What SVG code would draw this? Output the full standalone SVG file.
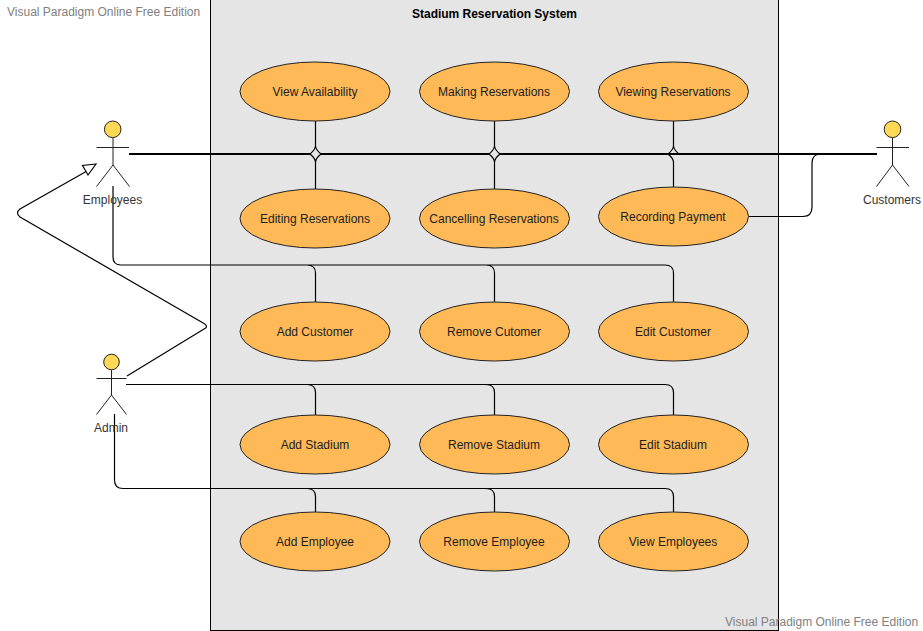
<svg xmlns="http://www.w3.org/2000/svg" width="923" height="631" viewBox="0 0 923 631">
<defs>
<style>
text{font-family:"Liberation Sans",Arial,sans-serif;font-size:12px;fill:#222;text-anchor:middle}
.uc{fill:#FFB957;stroke:#222;stroke-width:1}
.ln{fill:none;stroke:#000;stroke-width:1.2}
.thick{fill:none;stroke:#000;stroke-width:2.2}
.head{fill:#FFD855;stroke:#222;stroke-width:1}
.body{fill:none;stroke:#222;stroke-width:1}
.wm{fill:#808080;text-anchor:start}
.title{font-weight:bold;fill:#000;letter-spacing:-.02px}
.act{fill:#333}
</style>
</defs>
<rect x="0" y="0" width="923" height="631" fill="#fff"/>
<text class="wm" x="7" y="16">Visual Paradigm Online Free Edition</text>
<g id="system">
<rect x="210.500" y="-1" width="568" height="631.500" fill="#E5E5E5" stroke="#000" stroke-width="1"/>
<text class="title" x="494.500" y="18">Stadium Reservation System</text>
</g>
<g id="connectors">
<path class="thick" d="M129 154H310M321 154H489M500 154H877"/>
<path class="ln" d="M315.500 121V146Q315 150 310 154M315.500 146Q316 150 321 154M315.500 189V162Q315 158 310 154M315.500 162Q316 158 321 154"/>
<path class="ln" d="M494.500 121V146Q494 150 489 154M494.500 146Q495 150 500 154M494.500 189V162Q494 158 489 154M494.500 162Q495 158 500 154"/>
<path class="ln" d="M673.500 121V146Q673 150 668 154M673.500 146Q674 150 679 154M673.500 187V162Q673 158 668 154"/>
<path class="ln" d="M749 216.500H803Q812 216.500 812 207V163Q812 154 821 154"/>
<path class="ln" d="M113 186V257Q113 265 121 265H307Q315.500 265 315.500 273V302M307 265H486Q494.500 265 494.500 273V302M486 265H665Q673.500 265 673.500 273V302"/>
<path class="ln" d="M126 384.500H307Q315.500 384.500 315.500 392.500V415M307 384.500H486Q494.500 384.500 494.500 392.500V415M486 384.500H665Q673.500 384.500 673.500 392.500V415"/>
<path class="ln" d="M114.500 414V480Q114.500 488.500 123 488.500H307Q315.500 488.500 315.500 496.500V512M307 488.500H486Q494.500 488.500 494.500 496.500V512M486 488.500H665Q673.500 488.500 673.500 496.500V512"/>
<path class="ln" d="M127 376L204 329Q209 326.500 204 323.500L20 217Q15 213 20 209L87 171"/>
<polygon points="96,164 82.500,165.500 88,175" fill="#fff" stroke="#000" stroke-width="1.200"/>
</g>
<g id="actor-employees">
<circle class="head" cx="112.700" cy="129.300" r="8.300"/>
<path class="body" d="M113 138V165M96.500 147.500H129M113 165L96.500 186.500M113 165L129.500 186.500"/>
<text class="act" x="112.500" y="204">Employees</text>
</g>
<g id="actor-admin">
<circle class="head" cx="111.500" cy="362" r="7.800"/>
<path class="body" d="M111.500 370V395M96.500 378.500H126.500M111.500 395L96.500 414.500M111.500 395L126.500 414.500"/>
<text class="act" x="111" y="432">Admin</text>
</g>
<g id="actor-customers">
<circle class="head" cx="892.500" cy="129.300" r="8.300"/>
<path class="body" d="M892.500 138V165M876.500 147.500H909M892.500 165L876.500 186.500M892.500 165L909 186.500"/>
<text class="act" x="892" y="204">Customers</text>
</g>
<g id="uc-view-availability"><ellipse class="uc" cx="315" cy="91.500" rx="75" ry="29.500"/><text x="315" y="96">View Availability</text></g>
<g id="uc-making-reservations"><ellipse class="uc" cx="494.500" cy="91.500" rx="75" ry="29.500"/><text x="494" y="96">Making Reservations</text></g>
<g id="uc-viewing-reservations"><ellipse class="uc" cx="673.500" cy="91.500" rx="75" ry="29.500"/><text x="673" y="96">Viewing Reservations</text></g>
<g id="uc-editing-reservations"><ellipse class="uc" cx="315" cy="218.500" rx="75" ry="29.500"/><text x="315" y="223">Editing Reservations</text></g>
<g id="uc-cancelling-reservations"><ellipse class="uc" cx="494.500" cy="218.500" rx="75" ry="29.500"/><text x="494" y="223">Cancelling Reservations</text></g>
<g id="uc-recording-payment"><ellipse class="uc" cx="673.500" cy="216.500" rx="75" ry="29.500"/><text x="673" y="221">Recording Payment</text></g>
<g id="uc-add-customer"><ellipse class="uc" cx="315" cy="331.500" rx="75" ry="29.500"/><text x="315" y="336">Add Customer</text></g>
<g id="uc-remove-customer"><ellipse class="uc" cx="494.500" cy="331.500" rx="75" ry="29.500"/><text x="494" y="336">Remove Cutomer</text></g>
<g id="uc-edit-customer"><ellipse class="uc" cx="673.500" cy="331.500" rx="75" ry="29.500"/><text x="673" y="336">Edit Customer</text></g>
<g id="uc-add-stadium"><ellipse class="uc" cx="315" cy="444.500" rx="75" ry="29.500"/><text x="315" y="449">Add Stadium</text></g>
<g id="uc-remove-stadium"><ellipse class="uc" cx="494.500" cy="444.500" rx="75" ry="29.500"/><text x="494" y="449">Remove Stadium</text></g>
<g id="uc-edit-stadium"><ellipse class="uc" cx="673.500" cy="444.500" rx="75" ry="29.500"/><text x="673" y="449">Edit Stadium</text></g>
<g id="uc-add-employee"><ellipse class="uc" cx="315" cy="541.500" rx="75" ry="29.500"/><text x="315" y="546">Add Employee</text></g>
<g id="uc-remove-employee"><ellipse class="uc" cx="494.500" cy="541.500" rx="75" ry="29.500"/><text x="494" y="546">Remove Employee</text></g>
<g id="uc-view-employees"><ellipse class="uc" cx="673.500" cy="541.500" rx="75" ry="29.500"/><text x="673" y="546">View Employees</text></g>
<text class="wm" x="725" y="626">Visual Paradigm Online Free Edition</text>
</svg>
